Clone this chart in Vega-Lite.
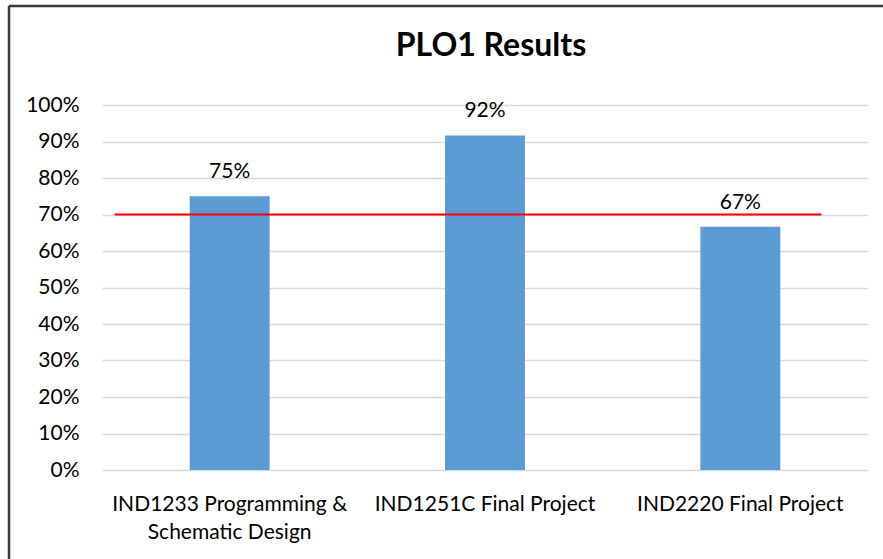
{
  "$schema": "https://vega.github.io/schema/vega-lite/v6.json",
  "autosize": {"type": "none"},
  "width": 874,
  "height": 553,
  "padding": {"left": 9, "top": 6, "right": 0, "bottom": 0},
  "background": "white",
  "title": {
    "text": "PLO1 Results",
    "font": "Lato",
    "fontSize": 32,
    "fontWeight": "bold",
    "color": "#000000",
    "anchor": "middle",
    "frame": "group",
    "baseline": "alphabetic",
    "offset": -82,
    "dx": 45
  },
  "config": {
    "view": {"stroke": "#3a3a3a", "strokeWidth": 2.5, "strokeDash": [874, 1427, 553, 0]},
    "font": "Lato"
  },
  "datasets": {
    "results": [
      {"course": "IND1233 Programming & Schematic Design", "score": 0.75},
      {"course": "IND1251C Final Project", "score": 0.9167},
      {"course": "IND2220 Final Project", "score": 0.6667}
    ],
    "target": [
      {"start": "IND1233 Programming & Schematic Design", "end": "IND2220 Final Project", "target": 0.7}
    ]
  },
  "layer": [
    {
      "data": {"name": "results"},
      "mark": {"type": "bar", "color": "#5b9bd5"},
      "encoding": {
        "x": {
          "field": "course",
          "type": "nominal",
          "sort": null,
          "title": null,
          "scale": {
            "domain": ["IND1233 Programming & Schematic Design", "IND1251C Final Project", "IND2220 Final Project"],
            "range": [93, 859],
            "paddingInner": 0.687,
            "paddingOuter": 0.3435
          },
          "axis": {
            "orient": "bottom",
            "offset": -89,
            "domain": false,
            "ticks": false,
            "tickSize": 0,
            "labelPadding": 23,
            "labelAngle": 0,
            "labelFont": "Lato",
            "labelFontSize": 21,
            "labelColor": "#000000",
            "labelLineHeight": 28,
            "labelBaseline": "top",
            "labelLimit": 400,
            "labelExpr": "datum.label == 'IND1233 Programming & Schematic Design' ? ['IND1233 Programming &', 'Schematic Design'] : datum.label"
          }
        },
        "y": {
          "field": "score",
          "type": "quantitative",
          "title": null,
          "scale": {"domain": [0, 1], "nice": false, "range": [464, 99]},
          "axis": {
            "values": [0, 0.1, 0.2, 0.3, 0.4, 0.5, 0.6, 0.7, 0.8, 0.9, 1],
            "format": ".0%",
            "offset": -71,
            "domain": false,
            "ticks": false,
            "tickSize": 0,
            "labelPadding": 1,
            "labelFont": "Lato",
            "labelFontSize": 21,
            "labelColor": "#000000",
            "grid": true,
            "gridColor": "#d9d9d9",
            "gridWidth": 1.3
          }
        }
      }
    },
    {
      "data": {"name": "results"},
      "mark": {"type": "text", "font": "Lato", "fontSize": 21, "color": "#000000", "baseline": "alphabetic", "dy": -18},
      "encoding": {
        "x": {"field": "course", "type": "nominal", "sort": null},
        "y": {"field": "score", "type": "quantitative"},
        "text": {"field": "score", "type": "quantitative", "format": ".0%"}
      }
    },
    {
      "data": {"name": "target"},
      "mark": {"type": "rule", "color": "#ff0000", "strokeWidth": 2, "xOffset": -115, "x2Offset": 81},
      "encoding": {
        "x": {"field": "start", "type": "nominal", "sort": null},
        "x2": {"field": "end"},
        "y": {"field": "target", "type": "quantitative"}
      }
    }
  ]
}
